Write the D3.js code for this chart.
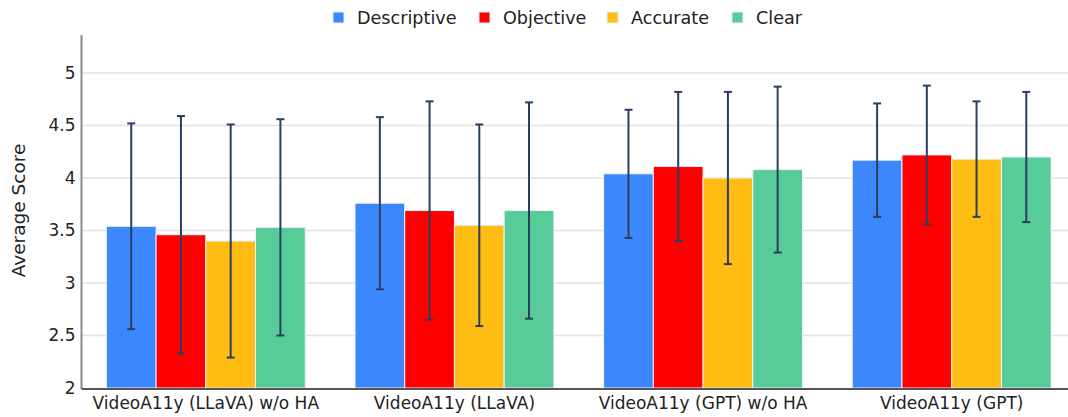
<!DOCTYPE html>
<html>
<head>
<meta charset="utf-8">
<script src="https://cdn.jsdelivr.net/npm/d3@7"></script>
<style>
  body { margin: 0; background: #fff; }
  svg { display: block; font-family: "DejaVu Sans", Verdana, sans-serif; }
</style>
</head>
<body>
<div id="root"></div>
<script>
// categories and series
var categories = ["VideoA11y (LLaVA) w/o HA", "VideoA11y (LLaVA)", "VideoA11y (GPT) w/o HA", "VideoA11y (GPT)"];
var seriesNames = ["Descriptive", "Objective", "Accurate", "Clear"];
var seriesColors = ["#3d87fd", "#ff0000", "#ffbc12", "#57cb98"];

// mean scores per series (one value per category)
var descriptive = [3.54, 3.76, 4.04, 4.17];
var objective   = [3.46, 3.69, 4.11, 4.22];
var accurate    = [3.40, 3.55, 4.00, 4.18];
var clear       = [3.53, 3.69, 4.08, 4.20];

// standard deviations (error bars)
var descriptiveErr = [0.98, 0.82, 0.61, 0.54];
var objectiveErr   = [1.13, 1.04, 0.71, 0.66];
var accurateErr    = [1.11, 0.96, 0.82, 0.55];
var clearErr       = [1.03, 1.03, 0.79, 0.62];

var yTicks = [2, 2.5, 3, 3.5, 4, 4.5, 5];

window.onload = function () {
    var width = 1068, height = 417;
    var left = 81.5, right = 1076, top = 35, bottom = 388;

    var values = [descriptive, objective, accurate, clear];
    var errs = [descriptiveErr, objectiveErr, accurateErr, clearErr];

    var svg = d3.select("#root")
        .append("svg")
        .attr("width", width)
        .attr("height", height);

    var x0 = d3.scaleBand().domain(categories).range([left, right]).paddingInner(0.2).paddingOuter(0.1);
    var x1 = d3.scaleBand().domain(seriesNames).range([0, x0.bandwidth()]);
    var y = d3.scaleLinear().domain([2, 5.362]).range([bottom, top]);

    // grid
    svg.append("g")
        .selectAll("line")
        .data(yTicks.slice(1))
        .enter()
        .append("line")
        .attr("x1", left).attr("x2", width)
        .attr("y1", d => y(d)).attr("y2", d => y(d))
        .attr("stroke", "#e2e2e2")
        .attr("stroke-width", 1.5);

    // bars
    var rows = [];
    categories.forEach(function (c, i) {
        seriesNames.forEach(function (s, j) {
            rows.push({ cat: c, name: s, color: seriesColors[j], v: values[j][i], e: errs[j][i] });
        });
    });

    var g = svg.append("g");
    g.selectAll("rect")
        .data(rows)
        .enter()
        .append("rect")
        .attr("x", d => x0(d.cat) + x1(d.name))
        .attr("y", d => y(d.v))
        .attr("width", x1.bandwidth())
        .attr("height", d => y(2) - y(d.v))
        .attr("fill", d => d.color)
        .attr("stroke", "#eef3fb")
        .attr("stroke-width", 1);

    // error bars
    var eb = svg.append("g")
        .attr("stroke", "#2a3f5f")
        .attr("stroke-width", 2);
    rows.forEach(function (d) {
        var cx = x0(d.cat) + x1(d.name) + x1.bandwidth() / 2;
        eb.append("line").attr("x1", cx).attr("x2", cx)
            .attr("y1", y(d.v + d.e)).attr("y2", y(d.v - d.e));
        eb.append("line").attr("x1", cx - 4).attr("x2", cx + 4)
            .attr("y1", y(d.v + d.e)).attr("y2", y(d.v + d.e));
        eb.append("line").attr("x1", cx - 4).attr("x2", cx + 4)
            .attr("y1", y(d.v - d.e)).attr("y2", y(d.v - d.e));
    });

    // y axis
    var yAxis = svg.append("g")
        .attr("transform", "translate(" + left + ",0)")
        .call(d3.axisLeft(y).tickValues(yTicks).tickFormat(d3.format("")).tickSize(0).tickPadding(6));
    yAxis.select(".domain").remove();
    yAxis.selectAll("text").attr("font-size", 17).attr("fill", "#222").attr("font-family", "DejaVu Sans");
    svg.append("line")
        .attr("x1", left).attr("x2", left)
        .attr("y1", top).attr("y2", bottom + 1)
        .attr("stroke", "#888").attr("stroke-width", 2);

    // x axis
    var xAxis = svg.append("g")
        .attr("transform", "translate(0," + bottom + ")")
        .call(d3.axisBottom(x0).tickSize(0).tickPadding(9));
    xAxis.select(".domain").remove();
    xAxis.selectAll("text").attr("font-size", 17).attr("fill", "#222").attr("font-family", "DejaVu Sans");
    svg.append("line")
        .attr("x1", left).attr("x2", width)
        .attr("y1", bottom + 1).attr("y2", bottom + 1)
        .attr("stroke", "#555").attr("stroke-width", 2);

    // y title
    svg.append("text")
        .attr("transform", "translate(25,210.5) rotate(-90)")
        .attr("text-anchor", "middle")
        .attr("font-size", 18.5)
        .attr("fill", "#222")
        .text("Average Score");

    // legend
    var legendX = [333, 479, 607, 732];
    var lg = svg.append("g");
    seriesNames.forEach(function (s, j) {
        lg.append("rect")
            .attr("x", legendX[j]).attr("y", 12)
            .attr("width", 11).attr("height", 11)
            .attr("fill", seriesColors[j])
            .attr("stroke", "#e6ecf5").attr("stroke-width", 1);
        lg.append("text")
            .attr("x", legendX[j] + 24).attr("y", 24)
            .attr("font-size", 17.6)
            .attr("fill", "#222")
            .text(s);
    });
};
</script>
</body>
</html>
